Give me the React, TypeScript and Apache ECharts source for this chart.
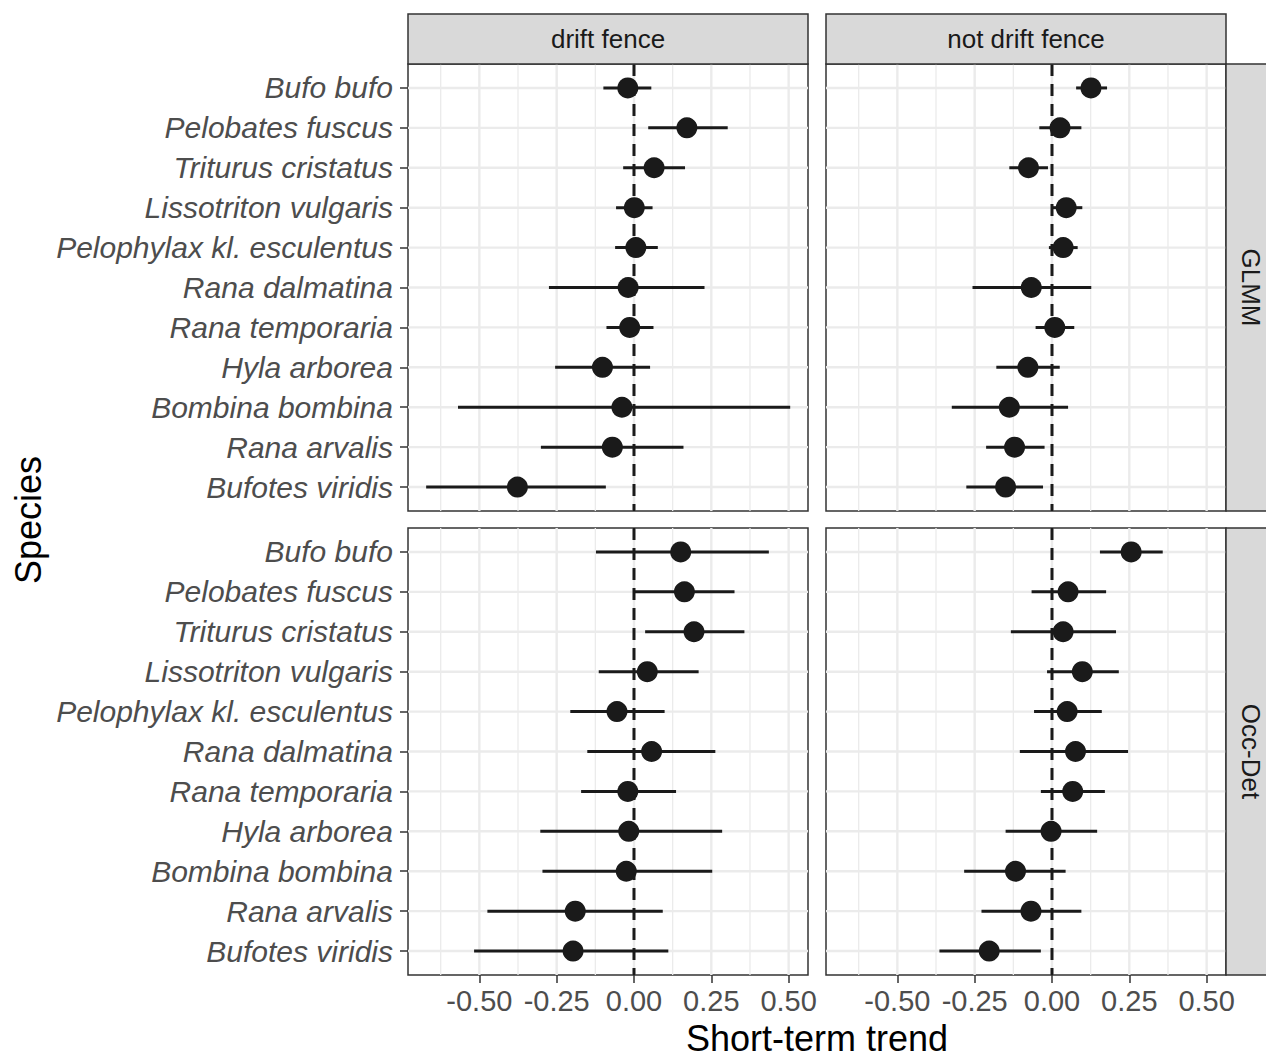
import React, { useEffect, useRef } from "react";
import * as echarts from "echarts";

const species = [
  "Bufo bufo",
  "Pelobates fuscus",
  "Triturus cristatus",
  "Lissotriton vulgaris",
  "Pelophylax kl. esculentus",
  "Rana dalmatina",
  "Rana temporaria",
  "Hyla arborea",
  "Bombina bombina",
  "Rana arvalis",
  "Bufotes viridis",
];

const columns = ["drift fence", "not drift fence"];
const rows = ["GLMM", "Occ-Det"];

const glmmFenceEst = [-0.02, 0.171, 0.065, 0.001, 0.006, -0.019, -0.014, -0.102, -0.039, -0.07, -0.377];
const glmmFenceLo = [-0.099, 0.046, -0.035, -0.058, -0.061, -0.275, -0.089, -0.255, -0.569, -0.301, -0.672];
const glmmFenceHi = [0.056, 0.303, 0.165, 0.06, 0.077, 0.228, 0.063, 0.052, 0.505, 0.16, -0.091];

const glmmOtherEst = [0.126, 0.026, -0.076, 0.046, 0.036, -0.067, 0.009, -0.078, -0.138, -0.121, -0.15];
const glmmOtherLo = [0.078, -0.041, -0.138, 0.002, -0.01, -0.257, -0.053, -0.18, -0.324, -0.213, -0.277];
const glmmOtherHi = [0.178, 0.095, -0.013, 0.098, 0.083, 0.127, 0.072, 0.025, 0.052, -0.024, -0.029];

const occFenceEst = [0.151, 0.163, 0.194, 0.043, -0.055, 0.057, -0.02, -0.017, -0.025, -0.19, -0.197];
const occFenceLo = [-0.123, 0.001, 0.036, -0.114, -0.206, -0.151, -0.171, -0.303, -0.296, -0.474, -0.517];
const occFenceHi = [0.436, 0.325, 0.357, 0.209, 0.099, 0.263, 0.136, 0.285, 0.253, 0.093, 0.111];

const occOtherEst = [0.256, 0.052, 0.036, 0.098, 0.049, 0.076, 0.067, -0.003, -0.118, -0.068, -0.203];
const occOtherLo = [0.155, -0.066, -0.133, -0.016, -0.058, -0.104, -0.036, -0.15, -0.284, -0.228, -0.364];
const occOtherHi = [0.358, 0.175, 0.207, 0.216, 0.161, 0.246, 0.171, 0.146, 0.044, 0.095, -0.036];

const xTicks = [-0.5, -0.25, 0, 0.25, 0.5];
const xMinor = [-0.625, -0.375, -0.125, 0.125, 0.375];
const X_MIN = -0.7307;
const X_MAX = 0.5626;
const Y_MIN = -0.6;
const Y_MAX = species.length - 1 + 0.6;

const FONT = "Liberation Sans";

const panelData = [
  { est: glmmFenceEst, lo: glmmFenceLo, hi: glmmFenceHi },
  { est: glmmOtherEst, lo: glmmOtherLo, hi: glmmOtherHi },
  { est: occFenceEst, lo: occFenceLo, hi: occFenceHi },
  { est: occOtherEst, lo: occOtherLo, hi: occOtherHi },
];

const gridBoxes = [
  { left: 408, top: 64, width: 400, height: 447 },
  { left: 826, top: 64, width: 400, height: 447 },
  { left: 408, top: 528, width: 400, height: 447 },
  { left: 826, top: 528, width: 400, height: 447 },
];

export default function App() {
  const ref = useRef<HTMLDivElement>(null);
  useEffect(() => {
    if (!ref.current) return;
    const chart = echarts.init(ref.current, undefined, { renderer: "svg" });
    const yIdx = species.map((_, i) => i);

    const grids = gridBoxes.map((b) => ({
      left: b.left,
      top: b.top,
      width: b.width,
      height: b.height,
      show: true,
      borderColor: "#333333",
      borderWidth: 1.5,
      backgroundColor: "#ffffff",
      z: 0,
    }));

    const xAxes = gridBoxes.map((_, g) => {
      const bottom = g >= 2;
      return {
        type: "value",
        gridIndex: g,
        position: "bottom",
        min: X_MIN,
        max: X_MAX,
        axisLine: { show: false, onZero: false },
        splitLine: { show: false },
        axisTick: {
          show: bottom,
          customValues: xTicks,
          length: 8,
          lineStyle: { color: "#333333", width: 1.5 },
        },
        axisLabel: {
          show: bottom,
          customValues: xTicks,
          formatter: (v: number) => v.toFixed(2),
          fontFamily: FONT,
          fontSize: 29,
          color: "#4D4D4D",
          margin: 11,
        },
      };
    });

    const yAxes = gridBoxes.map((_, g) => {
      const left = g % 2 === 0;
      return {
        type: "value",
        gridIndex: g,
        position: "left",
        min: Y_MIN,
        max: Y_MAX,
        inverse: true,
        axisLine: { show: false, onZero: false },
        splitLine: { show: false },
        axisTick: {
          show: left,
          customValues: yIdx,
          length: 8,
          lineStyle: { color: "#333333", width: 1.5 },
        },
        axisLabel: {
          show: left,
          customValues: yIdx,
          formatter: (v: number) => species[Math.round(v)] ?? "",
          fontFamily: FONT,
          fontStyle: "italic",
          fontSize: 30,
          color: "#4D4D4D",
          margin: 15,
        },
      };
    });

    const gridLineData: number[][] = [];
    xMinor.forEach((v) => gridLineData.push([v, Y_MIN, v, Y_MAX, 1]));
    xTicks.forEach((v) => gridLineData.push([v, Y_MIN, v, Y_MAX, 2]));
    yIdx.forEach((i) => gridLineData.push([X_MIN, i, X_MAX, i, 2]));

    const series: any[] = [];
    panelData.forEach((p, g) => {
      series.push({
        type: "custom",
        xAxisIndex: g,
        yAxisIndex: g,
        z: 1,
        silent: true,
        data: gridLineData,
        renderItem: (params: any, api: any) => {
          const a = api.coord([api.value(0), api.value(1)]);
          const b = api.coord([api.value(2), api.value(3)]);
          return {
            type: "line",
            shape: { x1: a[0], y1: a[1], x2: b[0], y2: b[1] },
            style: { stroke: "#EBEBEB", lineWidth: api.value(4) === 2 ? 2.4 : 1.3 },
          };
        },
      });
      series.push({
        type: "custom",
        xAxisIndex: g,
        yAxisIndex: g,
        z: 2,
        silent: true,
        data: [[0, Y_MIN, Y_MAX]],
        renderItem: (params: any, api: any) => {
          const a = api.coord([api.value(0), api.value(1)]);
          const b = api.coord([api.value(0), api.value(2)]);
          return {
            type: "line",
            shape: { x1: a[0], y1: a[1], x2: b[0], y2: b[1] },
            style: { stroke: "#1A1A1A", lineWidth: 3, lineDash: [12, 8] },
          };
        },
      });
      series.push({
        type: "custom",
        xAxisIndex: g,
        yAxisIndex: g,
        z: 3,
        silent: true,
        data: p.est.map((_, i) => [p.lo[i], p.hi[i], i]),
        renderItem: (params: any, api: any) => {
          const a = api.coord([api.value(0), api.value(2)]);
          const b = api.coord([api.value(1), api.value(2)]);
          return {
            type: "line",
            shape: { x1: a[0], y1: a[1], x2: b[0], y2: b[1] },
            style: { stroke: "#1A1A1A", lineWidth: 3 },
          };
        },
      });
      series.push({
        type: "scatter",
        xAxisIndex: g,
        yAxisIndex: g,
        z: 4,
        silent: true,
        symbol: "circle",
        symbolSize: 21,
        itemStyle: { color: "#1A1A1A", opacity: 1 },
        data: p.est.map((v, i) => [v, i]),
      });
    });

    const stripStyle = { fill: "#D9D9D9", stroke: "#333333", lineWidth: 1.5 };
    const stripText = (text: string, x: number, y: number, rotation = 0) => ({
      type: "text",
      x,
      y,
      rotation,
      z: 10,
      style: {
        text,
        align: "center",
        verticalAlign: "middle",
        textAlign: "center",
        textVerticalAlign: "middle",
        fill: "#1A1A1A",
        fontFamily: FONT,
        fontSize: 26,
      },
    });

    const graphics: any[] = [];
    columns.forEach((c, i) => {
      const b = gridBoxes[i];
      graphics.push({
        type: "rect",
        z: 9,
        shape: { x: b.left, y: 14, width: b.width, height: 50 },
        style: stripStyle,
      });
      graphics.push(stripText(c, b.left + b.width / 2, 39));
    });
    rows.forEach((r, i) => {
      const b = gridBoxes[i * 2 + 1];
      graphics.push({
        type: "rect",
        z: 9,
        shape: { x: 1226, y: b.top, width: 56, height: b.height },
        style: stripStyle,
      });
      graphics.push(stripText(r, 1251, b.top + b.height / 2, -Math.PI / 2));
    });
    graphics.push({
      type: "text",
      x: 817,
      y: 1038,
      z: 10,
      style: {
        text: "Short-term trend",
        align: "center",
        verticalAlign: "middle",
        textAlign: "center",
        textVerticalAlign: "middle",
        fill: "#000000",
        fontFamily: FONT,
        fontSize: 36,
      },
    });
    graphics.push({
      type: "text",
      x: 28,
      y: 520,
      rotation: Math.PI / 2,
      z: 10,
      style: {
        text: "Species",
        align: "center",
        verticalAlign: "middle",
        textAlign: "center",
        textVerticalAlign: "middle",
        fill: "#000000",
        fontFamily: FONT,
        fontSize: 36,
      },
    });

    chart.setOption({
      animation: false,
      backgroundColor: "#ffffff",
      grid: grids,
      xAxis: xAxes,
      yAxis: yAxes,
      series,
      graphic: { elements: graphics },
    });
    return () => chart.dispose();
  }, []);

  return (
    <div
      ref={ref}
      style={{ position: "absolute", left: 0, top: 0, width: 1266, height: 1057 }}
    />
  );
}
